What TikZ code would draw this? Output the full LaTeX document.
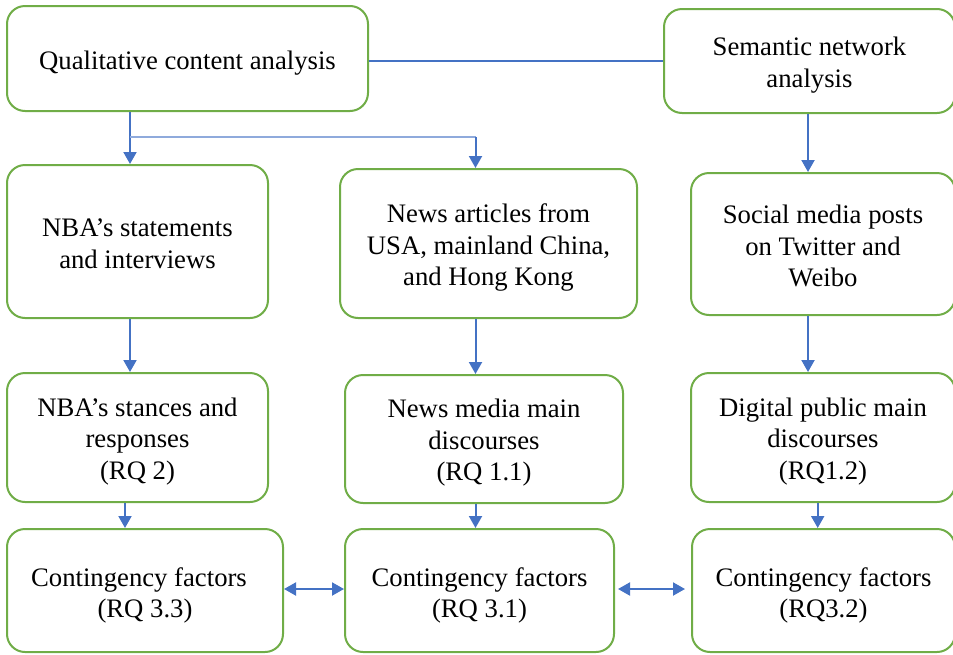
\documentclass[tikz,border=0pt]{standalone}
\usepackage{fontspec}
\setmainfont{Liberation Serif}
\usetikzlibrary{arrows.meta}
\definecolor{boxgreen}{HTML}{70AD47}
\definecolor{arrblue}{HTML}{4472C4}
\definecolor{lightblue}{HTML}{8FAADC}
\tikzset{
  box/.style={draw=boxgreen, line width=2pt, rounded corners=18pt, fill=white, inner sep=0pt},
  lbl/.style={align=center, inner sep=0pt, yshift=-4pt, font=\fontsize{26.7pt}{31.5pt}\selectfont},
  arr/.style={draw=arrblue, line width=2pt, -{Triangle[width=13pt,length=12pt]}},
  darr/.style={draw=arrblue, line width=2pt, {Triangle[width=13pt,length=12pt]}-{Triangle[width=13pt,length=12pt]}},
  branch/.style={draw=lightblue, line width=1.2pt}
}
\begin{document}
\begin{tikzpicture}[x=1pt,y=-1pt]
\useasboundingbox (0,0) rectangle (953,654);
% row 1
\node[box, minimum width=361pt, minimum height=105pt, label={[lbl, yshift=-1pt]center:Qualitative content analysis}] (qca) at (187.5,58.5) {};
\node[box, minimum width=291pt, minimum height=104pt, label={[lbl]center:Semantic network\\analysis}] (sna) at (809.5,61) {};
% row 2
\node[box, minimum width=261pt, minimum height=153pt, label={[lbl, yshift=2pt]center:NBA’s statements\\and interviews}] (nbast) at (137.5,241.5) {};
\node[box, minimum width=297pt, minimum height=149pt, label={[lbl]center:News articles from\\USA, mainland China,\\and Hong Kong}] (news) at (488.5,243.5) {};
\node[box, minimum width=264pt, minimum height=142pt, label={[lbl, yshift=2pt]center:Social media posts\\on Twitter and\\Weibo}] (social) at (823,244) {};
% row 3
\node[box, minimum width=261pt, minimum height=129pt, label={[lbl]center:NBA’s stances and\\responses\\(RQ 2)}] (stances) at (137.5,437.5) {};
\node[box, minimum width=278pt, minimum height=128pt, label={[lbl]center:News media main\\discourses\\(RQ 1.1)}] (media) at (484,439) {};
\node[box, minimum width=264pt, minimum height=129pt, label={[lbl]center:Digital public main\\discourses\\(RQ1.2)}] (digital) at (823,437.5) {};
% row 4
\node[box, minimum width=276pt, minimum height=123pt, label={[lbl, yshift=-1pt]center:\hspace*{-12pt}Contingency factors\\(RQ 3.3)}] (c33) at (145,590.5) {};
\node[box, minimum width=269pt, minimum height=123pt, label={[lbl, yshift=-1pt]center:Contingency factors\\(RQ 3.1)}] (c31) at (479.5,590.5) {};
\node[box, minimum width=263pt, minimum height=123pt, label={[lbl, yshift=-1pt]center:Contingency factors\\(RQ3.2)}] (c32) at (823.5,590.5) {};
% connectors
\draw[arrblue, line width=2pt] (sna.west -| qca.east) -- (sna.west);
\draw[arr] ([xshift=-57.5pt]qca.south) -- ([xshift=-7.5pt]nbast.north);
\draw[branch] ([xshift=-57.5pt,yshift=-25pt]qca.south) -- ([xshift=-13pt,yshift=-25pt]news.north |- qca.south);
\draw[arr] ([xshift=-13pt,yshift=-25pt]news.north |- qca.south) -- ([xshift=-13pt]news.north);
\draw[arr] ([xshift=-1.5pt]sna.south) -- ([xshift=-15pt]social.north);
\draw[arr] ([xshift=-7.5pt]nbast.south) -- ([xshift=-7.5pt]stances.north);
\draw[arr] ([xshift=-13pt]news.south) -- ([xshift=-8.5pt]media.north);
\draw[arr] ([xshift=-15pt]social.south) -- ([xshift=-15pt]digital.north);
\draw[arr] ([xshift=-12.5pt]stances.south) -- ([xshift=-20pt]c33.north);
\draw[arr] ([xshift=-8.5pt]media.south) -- ([xshift=-4pt]c31.north);
\draw[arr] ([xshift=-5.3pt]digital.south) -- ([xshift=-5.8pt]c32.north);
\draw[darr] ([yshift=1.5pt]c33.east) -- ([yshift=1.5pt]c31.west);
\draw[darr, shorten <=3pt, shorten >=6pt] ([yshift=1.5pt]c31.east) -- ([yshift=1.5pt]c32.west);
\end{tikzpicture}
\end{document}
